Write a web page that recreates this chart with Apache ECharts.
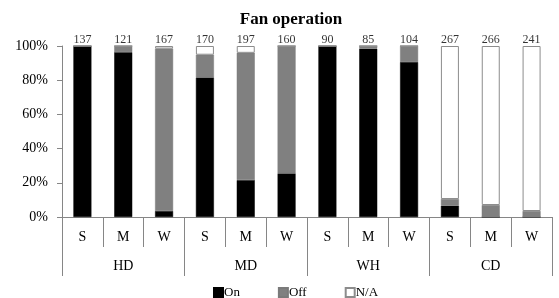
<!DOCTYPE html>
<html>
<head>
<meta charset="utf-8">
<script src="https://cdn.jsdelivr.net/npm/echarts@6/dist/echarts.min.js"></script>
<style>
  html, body { margin: 0; padding: 0; background: #fff; }
  #chart { width: 559px; height: 298px; }
</style>
</head>
<body>
<div id="chart"></div>
<script>
var seasons = ['S', 'M', 'W', 'S', 'M', 'W', 'S', 'M', 'W', 'S', 'M', 'W'];
var groups = ['HD', 'MD', 'WH', 'CD'];
var totals = [137, 121, 167, 170, 197, 160, 90, 85, 104, 267, 266, 241];

// percentages per bar
var onPct  = [100, 96.4, 3.5, 81.6, 21.6, 25.5, 100, 98.4, 90.6, 6.6, 0, 0];
var offPct = [0, 3.6, 95.0, 13.3, 74.4, 74.5, 0, 1.6, 9.4, 3.9, 7.0, 3.5];
var naPct  = [0, 0, 1.5, 5.1, 4.0, 0, 0, 0, 0, 89.5, 93.0, 96.5];

var font = 'Liberation Serif';
var axisGray = '#868686';

var chart = echarts.init(document.getElementById('chart'));

chart.setOption({
    animation: false,
    textStyle: { fontFamily: font, color: '#000' },
    title: {
        text: 'Fan operation',
        left: 286,
        textAlign: 'center',
        top: 6,
        textStyle: { fontFamily: font, fontSize: 17, fontWeight: 'bold', color: '#000' }
    },
    legend: {
        left: 208,
        top: 281,
        itemWidth: 9,
        itemHeight: 9,
        itemGap: 38,
        icon: 'rect',
        textStyle: { fontFamily: font, fontSize: 13, color: '#000', padding: [0, 0, 0, -4] },
        data: ['On', 'Off', 'N/A']
    },
    grid: { left: 62, right: 7, top: 46, bottom: 81 },
    xAxis: [
        {
            type: 'category',
            data: seasons,
            position: 'bottom',
            axisLine: { show: true, lineStyle: { color: axisGray } },
            axisTick: { show: true, length: 30, interval: 0, alignWithLabel: false, lineStyle: { color: axisGray } },
            axisLabel: { margin: 13, fontSize: 14, color: '#000', fontFamily: font, interval: 0 }
        },
        {
            type: 'category',
            data: groups,
            position: 'bottom',
            axisLine: { show: true, lineStyle: { color: axisGray } },
            axisTick: { show: true, length: 59, interval: 0, alignWithLabel: false, lineStyle: { color: axisGray } },
            axisLabel: { margin: 42, fontSize: 14, color: '#000', fontFamily: font, interval: 0 }
        }
    ],
    yAxis: {
        type: 'value',
        min: 0,
        max: 100,
        interval: 20,
        axisLine: { show: true, lineStyle: { color: axisGray } },
        axisTick: { show: true, length: 5, lineStyle: { color: axisGray } },
        splitLine: { show: false },
        axisLabel: { formatter: '{value}%', fontSize: 14, color: '#000', fontFamily: font, margin: 14 }
    },
    series: [
        {
            name: 'On', type: 'bar', stack: 'all', barWidth: 18, data: onPct,
            itemStyle: { color: '#000', borderColor: '#000', borderWidth: 0.5 }
        },
        {
            name: 'Off', type: 'bar', stack: 'all', barWidth: 18, data: offPct,
            itemStyle: { color: '#808080', borderColor: '#7a7a7a', borderWidth: 0.5 }
        },
        {
            name: 'N/A', type: 'bar', stack: 'all', barWidth: 18, data: naPct,
            itemStyle: { color: '#fff', borderColor: '#8c8c8c', borderWidth: 1 }
        },
        {
            name: 'total', type: 'scatter', symbolSize: 0, silent: true,
            data: totals.map(function (t, i) {
                return { value: [i, 100], label: { formatter: String(t) } };
            }),
            label: {
                show: true, position: 'top', distance: 0,
                fontFamily: font, fontSize: 12, color: '#000'
            }
        }
    ]
});
</script>
</body>
</html>
